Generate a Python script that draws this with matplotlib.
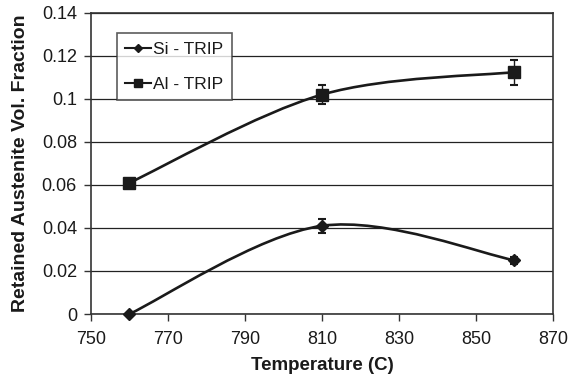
import numpy as np
import matplotlib
matplotlib.use("Agg")
import matplotlib.pyplot as plt
from matplotlib.path import Path
from matplotlib.patches import PathPatch
from matplotlib.ticker import FuncFormatter

plt.rcParams['font.family'] = ['Liberation Sans', 'DejaVu Sans']

temps = [760, 810, 860]
si_frac = [0.0, 0.041, 0.025]
si_err = [0.0, 0.0033, 0.0017]
al_frac = [0.061, 0.102, 0.1125]
al_err = [0.002, 0.0045, 0.0058]


def smooth_path(xs, ys):
    # Excel-style smoothed line: cubic Bezier through the points
    pts = np.column_stack([xs, ys]).astype(float)
    ext = np.vstack([pts[0], pts, pts[-1]])
    verts = [pts[0]]
    codes = [Path.MOVETO]
    for i in range(len(pts) - 1):
        p0, p1, p2, p3 = ext[i], ext[i + 1], ext[i + 2], ext[i + 3]
        c1 = p1 + (p2 - p0) / 6.0
        c2 = p2 - (p3 - p1) / 6.0
        verts += [c1, c2, p2]
        codes += [Path.CURVE4] * 3
    return Path(verts, codes)


fig = plt.figure(figsize=(5.68, 3.86), dpi=100)
ax = fig.add_axes([0.160, 0.1865, 0.8134, 0.780])

for ys, err, mk, ms, lms, lab in [(si_frac, si_err, 'D', 6, 4.5, 'Si - TRIP'),
                                  (al_frac, al_err, 's', 8.5, 6, 'Al - TRIP')]:
    ax.add_patch(PathPatch(smooth_path(temps, ys), fill=False, lw=1.9,
                           color='#1a1a1a', zorder=3))
    ax.errorbar(temps, ys, yerr=err, fmt='none', ecolor='#1a1a1a',
                elinewidth=1, capsize=2.8, capthick=1.5, zorder=3)
    ax.plot(temps, ys, ls='none', marker=mk, ms=ms, color='#1a1a1a',
            zorder=4, clip_on=False)
    ax.plot([], [], marker=mk, ms=lms, color='#1a1a1a', lw=1.5, label=lab)

ax.set_xlim(750, 870)
ax.set_ylim(0, 0.14)
ax.set_xticks(np.arange(750, 871, 20))
ax.set_yticks(np.arange(0, 0.141, 0.02))
ax.yaxis.set_major_formatter(FuncFormatter(lambda v, p: '%g' % round(v, 2)))
ax.yaxis.grid(True, color='#222222', lw=0.9)
ax.set_axisbelow(True)
ax.tick_params(direction='out', length=5, width=1, labelsize=13,
               color='#333333', labelcolor='#1a1a1a')
ax.tick_params(axis='x', pad=7)
ax.tick_params(axis='y', pad=5)
for s in ax.spines.values():
    s.set_color('#333333')
    s.set_linewidth(1.2)

ax.set_xlabel('Temperature (C)', fontsize=13.5, fontweight='bold',
              labelpad=7, color='#1a1a1a')
ax.set_ylabel('Retained Austenite Vol. Fraction', fontsize=14,
              fontweight='bold', labelpad=9, color='#1a1a1a')

leg = ax.legend(loc='upper left', bbox_to_anchor=(0.056, 0.934), fontsize=12.5,
                frameon=True, fancybox=False, edgecolor='#333333',
                handlelength=1.5, labelspacing=1.15, borderpad=0.5,
                handletextpad=0.1, borderaxespad=0)
leg.get_frame().set_linewidth(1.2)
for t in leg.get_texts():
    t.set_color('#1a1a1a')

fig.savefig('out.png', dpi=100)
